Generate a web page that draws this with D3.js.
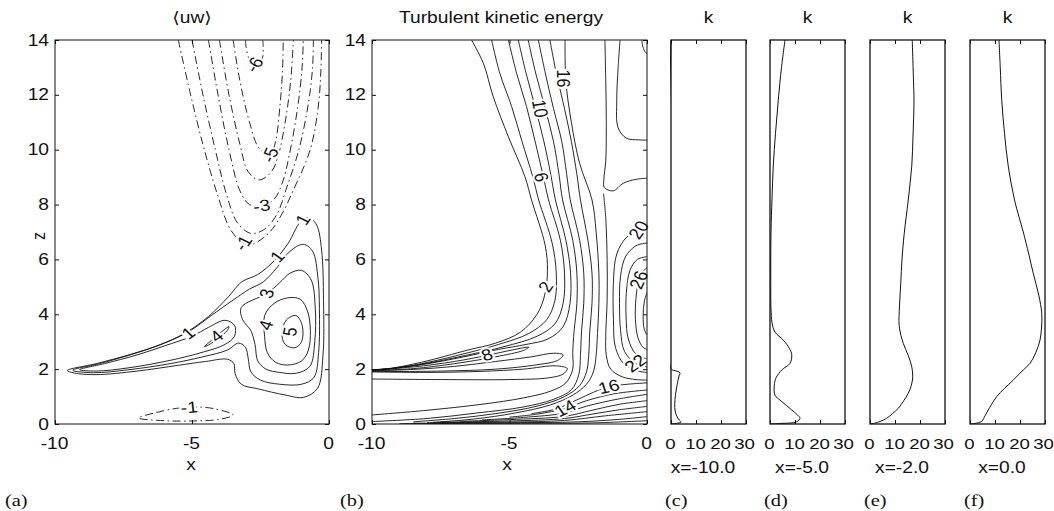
<!DOCTYPE html>
<html>
<head>
<meta charset="utf-8">
<script src="https://cdn.jsdelivr.net/npm/d3@7"></script>
<style>
  body { margin: 0; background: #fff; }
</style>
</head>
<body>
<svg id="fig" width="1054" height="511"></svg>
<script>
// ---------- data: contour lines, [x, z] ----------
// panel (a) <uw>, positive levels (solid, closed loops)
const uw1 = [[-9.55,1.95],[-8.5,2.2],[-7.2,2.55],[-6.2,2.88],[-5.26,3.31],[-4.4,3.92],[-3.67,4.64],[-3.19,5.18],[-2.6,5.45],[-1.97,5.98],[-1.49,6.59],[-1.05,7.35],[-0.72,7.52],[-0.45,7.25],[-0.27,6.34],[-0.2,4.5],[-0.22,2.5],[-0.42,1.3],[-0.94,0.97],[-1.61,1.06],[-2.58,1.28],[-3.2,1.45],[-3.43,1.85],[-3.47,2.2],[-3.7,2.36],[-4.5,2.28],[-5.5,2.14],[-7.0,1.93],[-8.5,1.8],[-9.3,1.86]];
const uw2 = [[-9.35,1.96],[-8.3,2.22],[-7.0,2.6],[-6.0,2.95],[-5.1,3.38],[-4.3,3.95],[-3.5,4.52],[-2.9,4.92],[-2.4,5.18],[-1.9,5.7],[-1.42,6.3],[-0.94,6.55],[-0.6,6.3],[-0.4,5.3],[-0.35,4.2],[-0.38,2.6],[-0.55,1.7],[-1.0,1.45],[-1.8,1.45],[-2.5,1.6],[-2.85,1.9],[-2.95,2.4],[-3.05,2.8],[-3.3,2.95],[-3.7,2.7],[-4.6,2.45],[-5.8,2.2],[-7.3,1.98],[-8.6,1.87]];
const uw3Tongue = [[-9.1,1.98],[-8.2,2.2],[-7,2.52],[-6,2.85],[-5.0,3.2],[-4.4,3.52],[-3.8,3.78],[-3.45,3.6],[-3.45,3.2],[-3.8,2.9],[-4.6,2.62],[-5.8,2.32],[-7.3,2.05],[-8.5,1.93]];
const uw3Core = [[-3.2,4.25],[-2.27,4.76],[-1.8,5.15],[-1.42,5.5],[-1.0,5.6],[-0.65,5.25],[-0.5,4.2],[-0.52,3.0],[-0.7,2.1],[-1.2,1.85],[-1.8,1.88],[-2.3,2.0],[-2.6,2.3],[-2.7,2.9],[-2.85,3.4],[-3.15,3.8]];
const uw4Blob = [[-4.55,2.82],[-4.25,3.08],[-3.9,3.38],[-3.65,3.55],[-3.72,3.4],[-4.05,3.12],[-4.4,2.88]];
const uw4Core = [[-2.35,3.95],[-2.0,4.4],[-1.5,4.6],[-1.05,4.55],[-0.78,4.1],[-0.68,3.4],[-0.75,2.7],[-1.0,2.3],[-1.5,2.15],[-1.95,2.25],[-2.25,2.6],[-2.35,3.2]];
const uw5 = [[-1.72,3.3],[-1.55,3.8],[-1.2,3.95],[-0.98,3.6],[-1.0,3.0],[-1.25,2.78],[-1.6,2.9]];
// negative levels (dash-dot)
const uwN1 = [[-5.5,14],[-5.05,12],[-4.55,10],[-4.05,8.3],[-3.6,7.1],[-3.13,6.59],[-2.82,6.55],[-2.21,6.95],[-1.75,7.6],[-1.3,8.53],[-0.69,9.99],[-0.4,11.5],[-0.3,12.8],[-0.27,14]];
const uwN2 = [[-5.0,14],[-4.6,12],[-4.15,10],[-3.75,8.4],[-3.35,7.35],[-2.85,6.95],[-2.35,7.1],[-1.9,7.65],[-1.55,8.6],[-1.1,10],[-0.75,11.7],[-0.6,13],[-0.57,14]];
const uwN3 = [[-4.4,14],[-4.05,12],[-3.65,10],[-3.25,8.5],[-2.9,8.0],[-2.46,7.95],[-2.0,8.2],[-1.7,8.8],[-1.45,9.8],[-1.15,11.5],[-0.98,13],[-0.94,14]];
const uwN4 = [[-4.0,14],[-3.65,12],[-3.25,10.2],[-2.95,9.2],[-2.55,8.9],[-2.1,9.2],[-1.85,9.8],[-1.6,11],[-1.4,12.5],[-1.3,14]];
const uwN5 = [[-3.5,14],[-3.25,12.5],[-2.9,11],[-2.55,10.05],[-2.15,9.81],[-1.95,10.3],[-1.8,11.5],[-1.7,12.8],[-1.67,14]];
const uwN6 = [[-3.05,14],[-2.95,13.4],[-2.7,13.1],[-2.45,13.3],[-2.4,13.7],[-2.42,14]];
const uwNBottom = [[-6.95,0.22],[-6.3,0.42],[-5.56,0.57],[-4.9,0.62],[-4.2,0.56],[-3.5,0.33],[-4.0,0.17],[-5.0,0.11],[-6.0,0.12]];
// contour labels [x, z, text, angle]
const uwLabels = [[-5.13,3.31,"1",-40],[-1.88,6.1,"1",-50],[-0.95,7.45,"1",-60],[-2.27,4.76,"3",-75],
  [-4.1,3.2,"4",-40],[-2.3,3.6,"4",-70],[-1.42,3.37,"5",-80],
  [-3.13,6.59,"-1",-60],[-2.46,7.95,"-3",-10],[-2.15,9.81,"-5",-70],[-2.72,13.1,"-6",-60],[-5.1,0.6,"-1",-5]];

// panel (b) turbulent kinetic energy (open polylines, solid)
const tke2 = [[-6.38,14],[-5.95,13.15],[-5.59,11.93],[-5.04,10.47],[-4.44,9.02],[-4.2,8.17],[-3.7,6.5],[-3.62,5.6],[-3.72,4.7],[-4.0,4.0],[-4.6,3.35],[-5.5,2.95],[-6.5,2.7],[-8.2,2.25],[-9.4,2.02],[-10,1.98]];
const tke4 = [[-5.65,14],[-5.35,12.78],[-4.92,11.57],[-4.56,10.35],[-4.15,9.0],[-3.94,8.17],[-3.45,6.6],[-3.3,5.5],[-3.35,4.5],[-3.65,3.8],[-4.3,3.3],[-5.4,2.9],[-6.5,2.6],[-8.2,2.2],[-9.5,2.0],[-10,1.98]];
const tke6 = [[-5.04,14],[-4.74,12.78],[-4.38,11.57],[-4.08,10.35],[-3.77,9.02],[-3.58,8.17],[-3.15,6.7],[-3.0,5.5],[-3.05,4.4],[-3.35,3.65],[-4.0,3.2],[-5.2,2.82],[-6.6,2.5],[-8.3,2.16],[-9.6,1.99],[-10,1.98]];
const tke8 = [[-4.68,14],[-4.4,12.8],[-4.05,11.5],[-3.75,10.3],[-3.5,9.1],[-3.33,8.17],[-2.95,6.7],[-2.78,5.5],[-2.8,4.4],[-3.05,3.55],[-3.6,3.1],[-4.4,2.9],[-5.4,2.72],[-6.8,2.42],[-8.4,2.13],[-9.7,1.99],[-10,1.98]];
const tkeTongueA = [[-10,1.97],[-8.5,2.08],[-7,2.28],[-5.82,2.5],[-4.9,2.7],[-4.3,2.8],[-4.5,2.68],[-5.5,2.45],[-7,2.2],[-8.5,2.02],[-10,1.95]];
const tkeTongueB = [[-10,1.94],[-8.5,1.99],[-7,2.1],[-5.5,2.28],[-4.2,2.45],[-3.4,2.58],[-3.05,2.52],[-3.25,2.32],[-4.0,2.16],[-5.5,2.0],[-7.5,1.93],[-10,1.91]];
const tkeTongueC = [[-10,1.9],[-8,1.88],[-6,1.92],[-4.5,2.0],[-3.3,2.12],[-2.9,2.02],[-3.05,1.82],[-3.6,1.68],[-5,1.62],[-7.5,1.62],[-10,1.64]];
const tke10 = [[-4.32,14],[-4.05,12.8],[-3.7,11.5],[-3.4,10.3],[-3.2,9.1],[-3.07,8.17],[-2.7,6.7],[-2.55,5.5],[-2.55,4.4],[-2.65,3.4],[-2.7,2.6],[-2.7,2.0],[-2.95,1.5],[-3.5,1.2],[-4.5,0.95],[-6,0.72],[-8,0.5],[-10,0.33]];
const tke12 = [[-3.95,14],[-3.7,12.8],[-3.4,11.5],[-3.1,10.3],[-2.92,9.1],[-2.79,8.17],[-2.45,6.7],[-2.3,5.5],[-2.3,4.4],[-2.38,3.4],[-2.42,2.5],[-2.48,1.8],[-2.75,1.25],[-3.4,0.9],[-4.5,0.62],[-6.2,0.4],[-8,0.2],[-10,0.09]];
const tke14 = [[-3.53,14],[-3.3,12.8],[-3.0,11.5],[-2.75,10.3],[-2.55,9.1],[-2.42,8.17],[-2.15,6.7],[-2.0,5.5],[-2.0,4.4],[-2.08,3.4],[-2.12,2.5],[-2.2,1.9],[-2.45,1.4],[-3.0,1.0],[-4.0,0.65],[-5.5,0.38],[-7,0.2],[-8.5,0.08]];
const tke16 = [[-2.98,14],[-2.95,12.5],[-2.75,11],[-2.45,9.5],[-2.0,8.17],[-1.85,7],[-1.75,5.5],[-1.75,4.4],[-1.8,3.3],[-1.85,2.5],[-1.95,1.9],[-2.2,1.45],[-2.7,1.05],[-3.5,0.7],[-4.8,0.4],[-6.3,0.18],[-7.8,0.06]];
const tkeWall = [
  [[-9,0.015],[-5,0.025],[-2,0.04],[0,0.12]],
  [[-8.5,0.03],[-5,0.045],[-2.5,0.08],[-1,0.17],[0,0.27]],
  [[-8,0.05],[-5,0.07],[-3,0.13],[-1.5,0.3],[0,0.45]],
  [[-7.5,0.07],[-5,0.11],[-3,0.2],[-2,0.36],[-1,0.52],[0,0.64]],
  [[-6.8,0.1],[-5,0.16],[-3,0.28],[-2,0.5],[-1,0.72],[0,0.85]],
  [[-6,0.15],[-4.5,0.24],[-3,0.4],[-2.2,0.65],[-1,0.92],[0,1.08]],
  [[-5,0.25],[-4,0.36],[-2.97,0.57],[-2.2,0.85],[-1.2,1.1],[0,1.24]],
  [[-4.2,0.38],[-3.3,0.55],[-2.4,0.95],[-1.8,1.22],[-1.39,1.36],[-0.7,1.45],[0,1.5]]
];
const tkeTop16 = [[-1.53,14],[-1.5,12.5],[-1.48,11],[-1.5,9.6],[-1.57,8.9],[-1.55,8.62],[-1.23,8.5],[-0.86,8.78],[-0.4,8.92],[0,8.96]];
const tkeTop14 = [[-0.98,14],[-1.05,13],[-1.1,11.8],[-1.05,10.8],[-0.75,10.42],[-0.3,10.36],[0,10.35]];
const tkeTop12 = [[-0.19,14],[-0.15,13.75],[-0.06,13.55],[0,13.5]];
const tkeCore = [
  [[-1.58,8.4],[-1.5,7.5],[-1.45,6],[-1.45,4.5],[-1.5,3.2],[-1.48,2.5],[-1.32,2.0],[-0.9,1.72],[-0.4,1.62],[0,1.6]],
  [[0,7.15],[-0.3,7.07],[-0.75,6.8],[-1.1,6.2],[-1.22,5.2],[-1.22,3.8],[-1.15,2.8],[-0.85,2.2],[-0.4,1.95],[0,1.88]],
  [[0,6.6],[-0.4,6.5],[-0.78,6.1],[-0.96,5.4],[-1.0,4.4],[-0.96,3.4],[-0.82,2.65],[-0.42,2.21],[0,2.08]],
  [[0,6.1],[-0.35,6.0],[-0.62,5.6],[-0.75,4.8],[-0.76,3.9],[-0.68,3.1],[-0.4,2.55],[0,2.38]],
  [[0,5.7],[-0.2,5.5],[-0.3,5.25],[-0.4,4.6],[-0.42,3.8],[-0.33,3.15],[-0.15,2.8],[0,2.72]],
  [[0,4.8],[-0.1,4.45],[-0.14,3.95],[-0.1,3.45],[0,3.25]]
];
const tkeLabels = [[-3.04,12.6,"16",90],[-3.89,11.5,"10",80],[-3.85,9.0,"6",75],[-3.68,5.0,"2",-60],
  [-5.82,2.52,"8",-20],[-2.97,0.57,"14",-30],[-1.39,1.36,"16",-15],[-0.42,2.21,"22",-40],
  [-0.3,5.25,"26",-70],[-0.3,7.07,"20",-60]];

// panels (c)-(f): profiles of k, [k, z]
const profX = ["x=-10.0", "x=-5.0", "x=-2.0", "x=0.0"];
const profTags = ["(c)", "(d)", "(e)", "(f)"];
const kAt10 = [[0,14],[0,2.0],[1,1.96],[3.6,1.87],[3.2,1.75],[2.6,1.5],[2.0,1.2],[1.6,0.9],[1.5,0.6],[2.0,0.35],[3.0,0.18],[4.0,0.07],[2.0,0.02],[0,0]];
const kAt5 = [[6,14],[4.6,13],[3.3,11.8],[2.2,10.6],[1.3,9.4],[0.8,8.2],[0.4,7.0],[0.3,5.5],[0.4,4.2],[0.8,3.7],[2.0,3.35],[5.3,3.06],[7.8,2.75],[8.7,2.52],[8.0,2.21],[4.7,1.97],[2.5,1.7],[1.7,1.4],[2.0,1.05],[4.0,0.87],[6.5,0.68],[8.7,0.51],[11,0.33],[12,0.21],[10.7,0.08],[4,0.02],[0,0]];
const kAt2 = [[16.9,14],[17.4,12.5],[17.6,11.8],[17.2,10.5],[16.7,9.4],[15.3,8.17],[13.7,6.95],[12.8,6],[12.3,5.13],[11.8,4.3],[11.7,3.55],[13.3,2.94],[15.3,2.5],[16.7,2.09],[17.1,1.72],[16.5,1.4],[15.3,1.12],[13.5,0.85],[11.3,0.57],[9,0.38],[6.7,0.21],[4,0.09],[2,0.03],[0,0]];
const kAt0 = [[11.6,14],[12.1,13],[12.7,11.8],[13.8,10.6],[15.3,9.4],[17.8,8.17],[21.3,7.0],[23.5,6.2],[25.3,5.49],[27.5,4.7],[28.7,4.04],[28.6,3.5],[28,3.06],[26.3,2.6],[24,2.21],[20.5,1.9],[17.3,1.6],[13.8,1.3],[10.7,1.0],[8.5,0.7],[7.3,0.51],[6,0.3],[4.7,0.1],[2,0.02],[0,0]];
const profiles = [kAt10, kAt5, kAt2, kAt0];

const zTicks = [0, 2, 4, 6, 8, 10, 12, 14];
const xTicks = [-10, -5, 0];
const kTicks = [0, 10, 20, 30];

// ---------- layout ----------
const SANS = "'Liberation Sans', Arial, 'DejaVu Sans', sans-serif";
const SERIF = "'Liberation Serif', 'Times New Roman', serif";
const SX = 1.2;   // the original figure is stretched horizontally
const svg = d3.select("#fig");
const z = d3.scaleLinear().domain([0, 14]).range([424, 40]);
const xA = d3.scaleLinear().domain([-10, 0]).range([55, 329]);
const xB = d3.scaleLinear().domain([-10, 0]).range([372, 647]);
const kLeft = [671, 770, 870, 970];

function label(x, y, s, o = {}) {
  return svg.append("text")
    .attr("transform", `translate(${x},${y}) scale(${SX},1)` + (o.rot ? ` rotate(${o.rot})` : ""))
    .attr("text-anchor", o.anchor || "middle")
    .attr("font-family", o.family || SANS)
    .attr("font-size", o.size || 16)
    .attr("fill", "#111")
    .text(s);
}

function frame(x0, x1, w) {
  svg.append("rect").attr("x", x0).attr("y", 40).attr("width", x1 - x0).attr("height", 384)
    .attr("fill", "none").attr("stroke", "#111").attr("stroke-width", w || 1);
}

function styleAxis(g, labels, size) {
  g.select(".domain").remove();
  g.selectAll("line").attr("stroke", "#111");
  g.selectAll("text").attr("font-family", SANS).attr("font-size", size || 16).attr("fill", "#111");
  if (!labels) g.selectAll("text").remove();
}

function axes(xs, ticksX, withZ, narrow) {
  let g = svg.append("g").attr("transform", "translate(0,424)")
    .call(d3.axisBottom(xs).tickValues(ticksX).tickSize(-4).tickPadding(14).tickFormat(d => String(d)));
  styleAxis(g, true, narrow ? 15.5 : 16);
  g.selectAll("text").attr("transform", (d, i) =>
    `translate(${narrow && i === ticksX.length - 1 ? -2 : -1},0) scale(${SX},1)`);
  g = svg.append("g").attr("transform", "translate(0,40)")
    .call(d3.axisTop(xs).tickValues(ticksX).tickSize(-4));
  styleAxis(g, false);
  if (withZ) {
    g = svg.append("g").attr("transform", `translate(${xs.range()[0]},0)`)
      .call(d3.axisLeft(z).tickValues(zTicks).tickSize(-4).tickFormat(d => String(d)));
    styleAxis(g, true);
    g.selectAll("text").attr("x", 0).attr("transform", `translate(-6,0) scale(${SX},1)`);
    g = svg.append("g").attr("transform", `translate(${xs.range()[1]},0)`)
      .call(d3.axisRight(z).tickValues(zTicks).tickSize(-4));
    styleAxis(g, false);
  }
}

function clip(id, x0, x1) {
  svg.append("clipPath").attr("id", id).append("rect")
    .attr("x", x0).attr("y", 40).attr("width", x1 - x0).attr("height", 384);
}

function contours(xs, clipId, lines, closed, dash) {
  const line = d3.line().x(d => xs(d[0])).y(d => z(d[1]))
    .curve(closed ? d3.curveCatmullRomClosed.alpha(0.5) : d3.curveCatmullRom.alpha(0.5));
  svg.append("g").attr("clip-path", `url(#${clipId})`)
    .selectAll("path").data(lines).join("path")
    .attr("d", line).attr("fill", "none").attr("stroke", "#111")
    .attr("stroke-width", 0.9).attr("stroke-dasharray", dash || null);
}

function contourLabels(xs, labs) {
  labs.forEach(([x, zz, s, a]) => {
    label(xs(x), z(zz), s, { size: 16, rot: a })
      .attr("dominant-baseline", "central")
      .attr("stroke", "#fff").attr("stroke-width", 4).attr("paint-order", "stroke");
  });
}

// ---------- panel (a) ----------
clip("clipA", 55, 329);
contours(xA, "clipA", [uw1, uw2, uw3Tongue, uw3Core, uw4Blob, uw4Core, uw5], true);
contours(xA, "clipA", [uwN1, uwN2, uwN3, uwN4, uwN5, uwN6], false, "8,3.5,1.5,3.5");
contours(xA, "clipA", [uwNBottom], true, "8,3.5,1.5,3.5");
contourLabels(xA, uwLabels);
frame(55, 329);
axes(xA, xTicks, true);

// ---------- panel (b) ----------
clip("clipB", 372, 647);
contours(xB, "clipB", [tke2, tke4, tke6, tke8, tkeTongueA, tkeTongueB, tkeTongueC,
  tke10, tke12, tke14, tke16, tkeTop16, tkeTop14, tkeTop12, ...tkeWall, ...tkeCore], false);
contourLabels(xB, tkeLabels);
frame(372, 647);
axes(xB, xTicks, true);

// ---------- panels (c)-(f) ----------
profiles.forEach((pts, i) => {
  const k = d3.scaleLinear().domain([0, 30]).range([kLeft[i], kLeft[i] + 75]);
  clip("clipK" + i, kLeft[i] - 1, kLeft[i] + 75);
  svg.append("path").datum(pts)
    .attr("clip-path", `url(#clipK${i})`)
    .attr("d", d3.line().x(d => k(d[0])).y(d => z(d[1])).curve(d3.curveCatmullRom.alpha(0.5)))
    .attr("fill", "none").attr("stroke", "#111").attr("stroke-width", 1);
  frame(kLeft[i], kLeft[i] + 75, 1.3);
  axes(k, kTicks, false, true);
  label(kLeft[i] + 37.5, 23, "k");
  label(kLeft[i] + 32, 473, profX[i]);
  label(kLeft[i] - 6, 506, profTags[i], { anchor: "start", family: SERIF, size: 17 });
});

// ---------- titles and axis labels ----------
label(192, 23, "\u27E8uw\u27E9");
label(501, 23, "Turbulent kinetic energy");
label(191, 470, "x");
label(507, 470, "x");
label(45, 236, "z", { rot: -90 });
label(5, 506, "(a)", { anchor: "start", family: SERIF, size: 17 });
label(340, 506, "(b)", { anchor: "start", family: SERIF, size: 17 });
</script>
</body>
</html>
